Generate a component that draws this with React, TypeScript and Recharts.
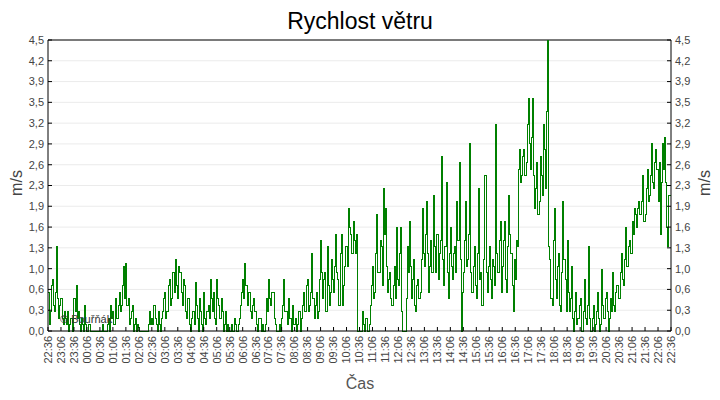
import React from 'react';
import {
  LineChart,
  Line,
  XAxis,
  YAxis,
  CartesianGrid,
  ReferenceLine,
} from 'recharts';

// wind speed in m/s, one reading every 2.5 minutes starting 22:36
const nightSpeeds = [
  0.6, 0.1, 0.3, 0.7, 0.8, 0.4, 0.3, 0.6, 1.3, 0.5, 0.2, 0.4,
  0.5, 0.2, 0.1, 0.3, 0.2, 0.1, 0.3, 0.0, 0.1, 0.2, 0.2, 0.0,
  0.5, 0.3, 0.7, 0.2, 0.3, 0.1, 0.0, 0.2, 0.1, 0.0, 0.4, 0.1,
  0.0, 0.1, 0.1, 0.0, 0.0, 0.0, 0.0, 0.0, 0.0, 0.0, 0.0, 0.0,
  0.0, 0.0, 0.1, 0.0, 0.0, 0.0, 0.0, 0.1, 0.2, 0.0, 0.4, 0.2,
  0.3, 0.1, 0.5, 0.2, 0.2, 0.4, 0.6, 0.3, 0.4, 0.7, 1.0, 0.5,
  1.05, 0.4, 0.5, 0.1, 0.2, 0.3, 0.4, 0.0, 0.1, 0.2, 0.0, 0.1,
  0.05, 0.0, 0.0, 0.0, 0.0, 0.0, 0.0, 0.0, 0.0, 0.1, 0.3, 0.1,
  0.2, 0.1, 0.4, 0.2, 0.1, 0.0, 0.3, 0.1, 0.0, 0.2, 0.3, 0.5,
  0.6, 0.2, 0.3, 0.7, 0.8, 0.4, 0.5, 0.9, 0.9, 0.6, 1.1, 0.7,
  0.5, 1.0, 0.9, 0.6, 0.4, 0.8, 0.7, 0.3, 0.2, 0.5, 0.5, 0.1,
  0.0, 0.2, 0.3, 0.1, 0.75, 0.4, 0.2, 0.0, 0.5, 0.3, 0.1, 0.0,
];
const morningSpeeds = [
  0.6, 0.2, 0.1, 0.3, 0.4, 0.2, 0.8, 0.5, 0.3, 0.6, 0.2, 0.1,
  0.8, 0.5, 0.4, 0.2, 0.5, 0.3, 0.0, 0.1, 0.3, 0.0, 0.1, 0.0,
  0.0, 0.0, 0.1, 0.0, 0.2, 0.1, 0.0, 0.0, 0.1, 0.2, 0.4, 0.6,
  0.8, 0.5, 1.05, 0.7, 0.4, 0.6, 0.6, 0.3, 0.2, 0.4, 0.5, 0.3,
  0.3, 0.1, 0.0, 0.2, 0.2, 0.0, 0.1, 0.0, 0.0, 0.1, 0.5, 0.3,
  0.8, 0.5, 0.4, 0.6, 0.6, 0.2, 0.1, 0.0, 0.0, 0.0, 0.1, 0.0,
  0.2, 0.4, 0.8, 0.3, 0.3, 0.1, 0.5, 0.2, 0.2, 0.0, 0.4, 0.1,
  0.1, 0.2, 0.0, 0.1, 0.3, 0.0, 0.2, 0.4, 0.6, 0.3, 0.3, 0.7,
  0.8, 0.3, 0.4, 0.6, 1.2, 0.5, 0.2, 0.4, 0.6, 0.2, 0.3, 0.8,
  1.4, 0.9, 0.5, 0.8, 0.9, 0.3, 1.3, 0.7, 0.4, 0.6, 1.1, 0.8,
  0.6, 1.0, 1.5, 0.9, 0.8, 0.4, 1.2, 1.5, 0.4, 0.7, 1.0, 1.3,
  1.3, 1.0, 1.9, 1.6, 1.5, 1.2, 1.7, 1.4, 1.2, 1.5, 0.0, 0.0,
];
const afternoonSpeeds = [
  0.0, 0.0, 0.0, 0.3, 0.1, 0.0, 0.2, 0.0, 0.0, 0.1, 0.4, 0.7,
  1.0, 0.5, 0.6, 1.2, 1.8, 0.9, 0.9, 1.4, 1.3, 0.7, 2.2, 1.5,
  1.9, 1.0, 0.6, 0.8, 0.9, 0.5, 0.4, 0.7, 1.0, 0.5, 1.6, 0.8,
  0.7, 1.2, 1.6, 0.3, 0.0, 0.0, 0.0, 0.5, 1.3, 0.9, 1.7, 1.0,
  0.5, 0.8, 1.1, 0.4, 0.3, 0.7, 0.8, 0.5, 0.6, 1.1, 1.9, 1.2,
  1.0, 1.5, 2.0, 1.2, 0.6, 1.0, 1.4, 0.9, 2.1, 1.3, 0.9, 1.5,
  1.5, 0.8, 1.2, 1.4, 2.7, 1.1, 0.7, 1.3, 2.3, 0.9, 0.5, 1.2,
  1.6, 1.0, 0.8, 1.2, 1.3, 0.9, 2.0, 1.4, 2.6, 1.1, 0.0, 0.6,
  0.9, 1.4, 2.0, 1.0, 1.1, 1.5, 2.9, 0.9, 0.6, 1.0, 1.3, 0.7,
  0.5, 1.2, 2.2, 0.8, 0.9, 0.4, 0.4, 1.1, 2.4, 0.9, 0.6, 1.0,
  1.3, 0.8, 0.5, 1.1, 1.0, 0.7, 3.2, 1.2, 0.9, 1.4, 1.7, 0.6,
  1.0, 1.4, 1.7, 0.8, 0.6, 1.3, 2.1, 1.5, 1.2, 0.7, 0.3, 1.1,
];
const eveningSpeeds = [
  0.8, 1.4, 1.3, 2.5, 2.8, 2.3, 2.4, 2.7, 2.8, 2.4, 2.6, 3.2,
  3.6, 2.9, 2.5, 3.0, 3.6, 2.4, 1.9, 2.2, 2.6, 1.8, 2.0, 2.7,
  2.4, 2.1, 3.2, 2.8, 2.2, 3.4, 4.5, 1.3, 1.1, 0.5, 0.4, 1.4,
  1.9, 0.8, 0.5, 1.0, 1.2, 0.4, 0.3, 0.9, 2.0, 1.1, 0.8, 0.3,
  1.4, 0.6, 0.3, 0.5, 1.0, 0.2, 0.0, 0.3, 0.6, 0.1, 0.2, 0.4,
  0.5, 0.0, 0.0, 0.3, 0.8, 0.2, 0.1, 0.4, 1.3, 0.2, 0.0, 0.2,
  0.4, 0.0, 0.1, 0.3, 0.6, 0.2, 0.0, 0.1, 0.95, 0.4, 0.2, 0.5,
  0.6, 0.3, 0.0, 0.2, 0.5, 0.3, 0.9, 0.4, 0.3, 0.6, 0.7, 0.5,
  0.5, 0.9, 1.2, 0.8, 0.7, 1.1, 1.6, 1.0, 1.0, 1.3, 1.4, 1.2,
  1.7, 1.5, 1.9, 1.8, 1.6, 1.9, 2.0, 1.8, 1.8, 2.0, 2.4, 1.7,
  1.8, 2.2, 2.5, 2.0, 2.1, 2.4, 2.9, 2.3, 2.2, 2.6, 2.8, 2.5,
  2.0, 2.6, 1.5, 2.3, 2.9, 2.5, 3.0, 2.3, 1.6, 1.3, 2.1, 2.1,
  2.1,
];

const timeLabels = [
  '22:36', '23:06', '23:36', '00:06', '00:36', '01:06', '01:36', '02:06',
  '02:36', '03:06', '03:36', '04:06', '04:36', '05:06', '05:36', '06:06',
  '06:36', '07:06', '07:36', '08:06', '08:36', '09:06', '09:36', '10:06',
  '10:36', '11:06', '11:36', '12:06', '12:36', '13:06', '13:36', '14:06',
  '14:36', '15:06', '15:36', '16:06', '16:36', '17:06', '17:36', '18:06',
  '18:36', '19:06', '19:36', '20:06', '20:36', '21:06', '21:36', '22:06',
  '22:36',
];

const yTicks = [
  0, 0.321, 0.643, 0.964, 1.286, 1.607, 1.929, 2.25, 2.571, 2.893, 3.214,
  3.536, 3.857, 4.179, 4.5,
];

const speeds = [...nightSpeeds, ...morningSpeeds, ...afternoonSpeeds, ...eveningSpeeds];
const data = speeds.map((v, i) => ({ t: i * 2.5, v }));
const xTicks = timeLabels.map((_, i) => i * 30);

const FONT = 'Arial, "Liberation Sans", sans-serif';

const fmtY = (v: number) => v.toFixed(1).replace('.', ',');

function TimeTick(props: any) {
  const { x, y, payload } = props;
  return (
    <text
      x={x}
      y={y}
      transform={`rotate(-90, ${x}, ${y})`}
      textAnchor="end"
      dy="0.35em"
      fontSize={11}
      fontFamily={FONT}
      fill="#444"
    >
      {timeLabels[Math.round(payload.value / 30)]}
    </text>
  );
}

const yTickStyle = { fontSize: 11, fill: '#444', fontFamily: FONT };

export default function App() {
  return (
    <div style={{ position: 'absolute', left: 0, top: 0, width: 720, height: 400, background: '#fff', fontFamily: FONT }}>
      <LineChart width={720} height={400} data={data} margin={{ top: 40, right: 9, left: 8, bottom: 9 }}>
        <CartesianGrid horizontal vertical={false} stroke="#ebebeb" yAxisId="left" />
        <XAxis
          dataKey="t"
          type="number"
          domain={[0, 1440]}
          ticks={xTicks}
          interval={0}
          height={60}
          stroke="#000"
          tickSize={-4}
          tickMargin={9}
          tick={<TimeTick />}
        />
        <YAxis
          yAxisId="left"
          domain={[0, 4.5]}
          ticks={yTicks}
          interval={0}
          width={40}
          stroke="#000"
          tickSize={-4}
          tickMargin={8}
          tickFormatter={fmtY}
          tick={yTickStyle}
        />
        <YAxis
          yAxisId="right"
          orientation="right"
          domain={[0, 4.5]}
          ticks={yTicks}
          interval={0}
          width={40}
          stroke="#000"
          tickSize={-4}
          tickMargin={8}
          tickFormatter={fmtY}
          tick={yTickStyle}
        />
        <ReferenceLine yAxisId="left" y={4.5} stroke="#000" />
        {/* same series on the right scale, kept invisible so the right axis gets its ticks */}
        <Line
          yAxisId="right"
          type="stepAfter"
          dataKey="v"
          stroke="none"
          dot={false}
          activeDot={false}
          legendType="none"
          isAnimationActive={false}
        />
        <Line
          yAxisId="left"
          type="stepAfter"
          dataKey="v"
          stroke="#008000"
          strokeWidth={1}
          shapeRendering="crispEdges"
          dot={false}
          isAnimationActive={false}
        />
      </LineChart>
      <div style={{ position: 'absolute', left: 0, top: 8, width: 720, textAlign: 'center', fontSize: 23, color: '#000' }}>
        Rychlost větru
      </div>
      <div style={{ position: 'absolute', left: 60, top: 313, fontSize: 11, color: '#333' }}>© Bouřňák</div>
      <div style={{ position: 'absolute', left: 0, top: 375, width: 720, textAlign: 'center', fontSize: 16, color: '#555' }}>
        Čas
      </div>
      <div style={{ position: 'absolute', left: 17, top: 183, transform: 'translate(-50%, -50%) rotate(-90deg)', fontSize: 16, color: '#444', whiteSpace: 'nowrap' }}>
        m/s
      </div>
      <div style={{ position: 'absolute', left: 705, top: 183, transform: 'translate(-50%, -50%) rotate(-90deg)', fontSize: 16, color: '#444', whiteSpace: 'nowrap' }}>
        m/s
      </div>
    </div>
  );
}
